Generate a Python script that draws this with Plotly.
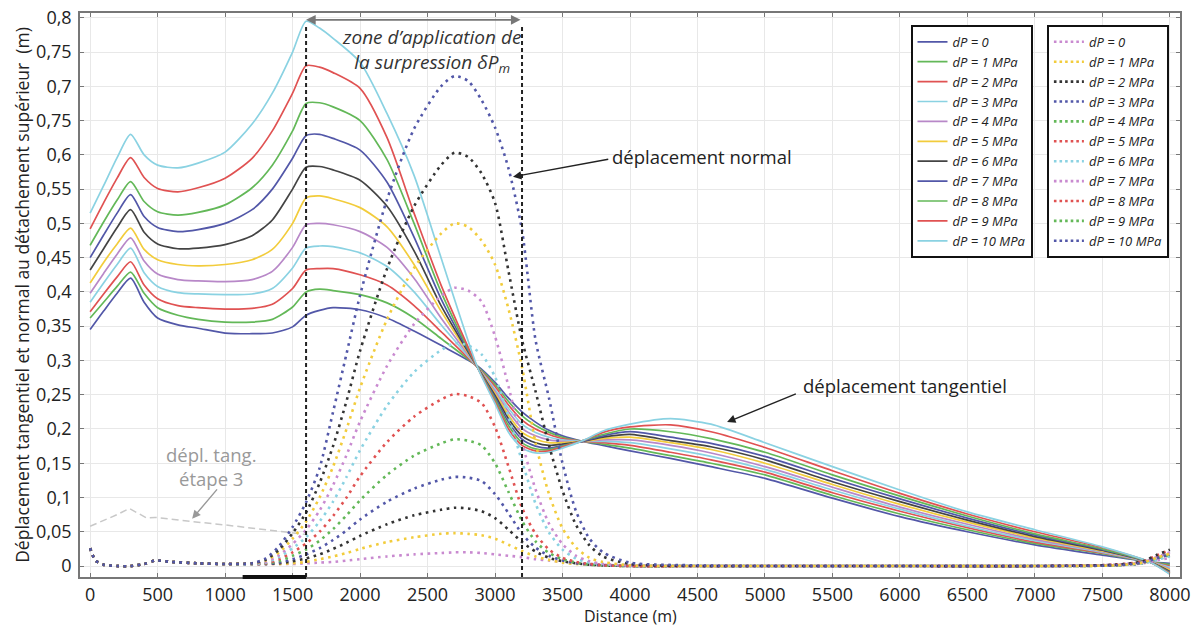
import plotly.graph_objects as go

# ---------------- data ----------------
dp_labels = ["dP = 0", "dP = 1 MPa", "dP = 2 MPa", "dP = 3 MPa", "dP = 4 MPa", "dP = 5 MPa",
             "dP = 6 MPa", "dP = 7 MPa", "dP = 8 MPa", "dP = 9 MPa", "dP = 10 MPa"]

# tangential displacement (solid lines)
x_tan = [0, 100, 200, 300, 400, 500, 650, 800, 1000, 1200, 1350, 1500, 1600, 1700, 1800, 2000, 2200,
         2400, 2600, 2870, 3000, 3100, 3200, 3300, 3400, 3500, 3650, 3800, 4000, 4300, 4600, 5000,
         5500, 6000, 6500, 7000, 7500, 7850, 8000]
tan_dp0 = [0.345, 0.372, 0.398, 0.420, 0.385, 0.362, 0.352, 0.347, 0.340, 0.339, 0.340, 0.349, 0.366,
           0.373, 0.377, 0.374, 0.362, 0.343, 0.322, 0.292, 0.268, 0.245, 0.225, 0.210, 0.198, 0.190,
           0.182, 0.176, 0.168, 0.157, 0.145, 0.128, 0.099, 0.072, 0.050, 0.031, 0.016, 0.006, 0.004]
tan_dp1 = [0.362, 0.385, 0.408, 0.429, 0.398, 0.377, 0.366, 0.360, 0.356, 0.356, 0.360, 0.378, 0.400,
           0.404, 0.402, 0.396, 0.384, 0.362, 0.332, 0.291, 0.265, 0.240, 0.219, 0.205, 0.195, 0.188,
           0.182, 0.178, 0.172, 0.161, 0.150, 0.133, 0.103, 0.076, 0.053, 0.033, 0.018, 0.006, 0.002]
tan_dp2 = [0.371, 0.397, 0.422, 0.444, 0.410, 0.390, 0.380, 0.377, 0.375, 0.376, 0.382, 0.405, 0.432,
           0.434, 0.434, 0.425, 0.410, 0.380, 0.342, 0.290, 0.262, 0.235, 0.213, 0.200, 0.192, 0.186,
           0.182, 0.180, 0.176, 0.166, 0.155, 0.137, 0.107, 0.080, 0.056, 0.035, 0.019, 0.006, 0.000]
tan_dp3 = [0.385, 0.413, 0.440, 0.464, 0.428, 0.408, 0.399, 0.397, 0.396, 0.397, 0.405, 0.435, 0.464,
           0.467, 0.466, 0.457, 0.437, 0.400, 0.352, 0.290, 0.258, 0.230, 0.207, 0.195, 0.188, 0.184,
           0.182, 0.182, 0.180, 0.171, 0.160, 0.141, 0.111, 0.083, 0.058, 0.037, 0.020, 0.006, -0.002]
tan_dp4 = [0.398, 0.427, 0.455, 0.479, 0.445, 0.426, 0.418, 0.416, 0.415, 0.418, 0.430, 0.465, 0.498,
           0.500, 0.498, 0.488, 0.465, 0.420, 0.362, 0.290, 0.255, 0.225, 0.201, 0.190, 0.184, 0.182,
           0.182, 0.184, 0.184, 0.176, 0.165, 0.145, 0.115, 0.086, 0.061, 0.039, 0.021, 0.006, -0.004]
tan_dp5 = [0.413, 0.443, 0.470, 0.493, 0.462, 0.447, 0.440, 0.438, 0.440, 0.447, 0.462, 0.500, 0.537,
           0.540, 0.536, 0.523, 0.495, 0.440, 0.372, 0.290, 0.252, 0.220, 0.195, 0.185, 0.180, 0.180,
           0.182, 0.186, 0.188, 0.180, 0.170, 0.150, 0.119, 0.090, 0.064, 0.041, 0.022, 0.006, -0.006]
tan_dp6 = [0.432, 0.463, 0.494, 0.520, 0.487, 0.470, 0.463, 0.464, 0.469, 0.482, 0.505, 0.550, 0.582,
           0.583, 0.578, 0.563, 0.525, 0.460, 0.380, 0.290, 0.249, 0.215, 0.190, 0.180, 0.176, 0.178,
           0.182, 0.188, 0.192, 0.183, 0.174, 0.155, 0.123, 0.094, 0.067, 0.043, 0.023, 0.006, -0.008]
tan_dp7 = [0.450, 0.483, 0.515, 0.542, 0.510, 0.494, 0.488, 0.491, 0.500, 0.520, 0.550, 0.595, 0.628,
           0.630, 0.624, 0.607, 0.560, 0.480, 0.390, 0.290, 0.246, 0.210, 0.185, 0.175, 0.172, 0.176,
           0.182, 0.190, 0.196, 0.188, 0.179, 0.160, 0.128, 0.098, 0.070, 0.045, 0.024, 0.006, -0.009]
tan_dp8 = [0.468, 0.502, 0.534, 0.561, 0.532, 0.517, 0.512, 0.516, 0.527, 0.552, 0.585, 0.635, 0.675,
           0.676, 0.670, 0.650, 0.593, 0.500, 0.400, 0.290, 0.243, 0.205, 0.180, 0.171, 0.170, 0.175,
           0.183, 0.192, 0.200, 0.196, 0.186, 0.166, 0.133, 0.102, 0.073, 0.047, 0.025, 0.006, -0.010]
tan_dp9 = [0.492, 0.530, 0.566, 0.596, 0.567, 0.551, 0.546, 0.552, 0.566, 0.595, 0.635, 0.690, 0.730,
           0.728, 0.720, 0.697, 0.625, 0.515, 0.410, 0.290, 0.240, 0.200, 0.176, 0.168, 0.168, 0.174,
           0.183, 0.195, 0.203, 0.206, 0.196, 0.173, 0.139, 0.106, 0.076, 0.050, 0.027, 0.006, -0.011]
tan_dp10 = [0.515, 0.555, 0.596, 0.630, 0.600, 0.585, 0.581, 0.588, 0.604, 0.645, 0.690, 0.750, 0.795,
            0.785, 0.770, 0.735, 0.660, 0.570, 0.450, 0.290, 0.237, 0.195, 0.172, 0.165, 0.166, 0.172,
            0.183, 0.197, 0.207, 0.215, 0.207, 0.180, 0.145, 0.111, 0.079, 0.053, 0.028, 0.006, -0.012]
tan_series = [tan_dp0, tan_dp1, tan_dp2, tan_dp3, tan_dp4, tan_dp5, tan_dp6, tan_dp7, tan_dp8, tan_dp9, tan_dp10]

# normal displacement (dotted lines)
x_nor = [0, 40, 100, 200, 300, 400, 480, 600, 800, 1000, 1200, 1300, 1400, 1500, 1600, 1700, 1800,
         1900, 2000, 2200, 2400, 2600, 2700, 2800, 2900, 3000, 3100, 3200, 3300, 3400, 3500, 3600,
         3700, 3800, 4000, 4500, 5000, 6000, 7000, 7600, 7800, 7900, 8000]
nor_dp0 = [0.026, 0.008, 0.002, 0.0, 0.0, 0.003, 0.008, 0.006, 0.004, 0.003, 0.003, 0.003, 0.003,
           0.003, 0.004, 0.005, 0.006, 0.008, 0.010, 0.014, 0.017, 0.019, 0.020, 0.020, 0.019, 0.017,
           0.015, 0.013, 0.010, 0.008, 0.006, 0.004, 0.003, 0.002, 0.0, 0.0, 0.0, 0.0, 0.0, 0.001,
           0.004, 0.008, 0.012]
nor_dp1 = [0.026, 0.008, 0.002, 0.0, 0.0, 0.003, 0.008, 0.006, 0.004, 0.003, 0.003, 0.003, 0.003,
           0.004, 0.006, 0.010, 0.014, 0.019, 0.025, 0.035, 0.042, 0.047, 0.048, 0.047, 0.045, 0.040,
           0.031, 0.022, 0.014, 0.009, 0.005, 0.003, 0.002, 0.001, 0.0, 0.0, 0.0, 0.0, 0.0, 0.001,
           0.005, 0.012, 0.018]
nor_dp2 = [0.026, 0.008, 0.002, 0.0, 0.0, 0.003, 0.008, 0.006, 0.004, 0.003, 0.003, 0.003, 0.004,
           0.007, 0.011, 0.017, 0.025, 0.034, 0.044, 0.061, 0.074, 0.082, 0.085, 0.084, 0.080, 0.070,
           0.053, 0.035, 0.021, 0.012, 0.007, 0.004, 0.002, 0.001, 0.0, 0.0, 0.0, 0.0, 0.0, 0.001,
           0.004, 0.010, 0.015]
nor_dp3 = [0.026, 0.008, 0.002, 0.0, 0.0, 0.003, 0.008, 0.006, 0.004, 0.003, 0.003, 0.003, 0.005,
           0.010, 0.017, 0.026, 0.038, 0.052, 0.068, 0.094, 0.113, 0.126, 0.130, 0.129, 0.124, 0.105,
           0.077, 0.047, 0.027, 0.015, 0.008, 0.004, 0.002, 0.001, 0.0, 0.0, 0.0, 0.0, 0.0, 0.002,
           0.006, 0.014, 0.022]
nor_dp4 = [0.026, 0.008, 0.002, 0.0, 0.0, 0.003, 0.008, 0.006, 0.004, 0.003, 0.003, 0.004, 0.007,
           0.015, 0.024, 0.037, 0.054, 0.074, 0.096, 0.133, 0.161, 0.179, 0.185, 0.183, 0.176, 0.150,
           0.108, 0.066, 0.036, 0.019, 0.010, 0.005, 0.002, 0.001, 0.0, 0.0, 0.0, 0.0, 0.0, 0.001,
           0.005, 0.011, 0.016]
nor_dp5 = [0.026, 0.008, 0.002, 0.0, 0.0, 0.003, 0.008, 0.006, 0.004, 0.003, 0.003, 0.004, 0.010,
           0.020, 0.033, 0.050, 0.073, 0.100, 0.131, 0.181, 0.218, 0.243, 0.251, 0.248, 0.238, 0.203,
           0.145, 0.085, 0.047, 0.024, 0.012, 0.006, 0.003, 0.001, 0.0, 0.0, 0.0, 0.0, 0.0, 0.002,
           0.007, 0.015, 0.024]
nor_dp6 = [0.026, 0.008, 0.002, 0.0, 0.0, 0.003, 0.008, 0.006, 0.004, 0.003, 0.003, 0.005, 0.013,
           0.026, 0.042, 0.065, 0.094, 0.130, 0.169, 0.234, 0.283, 0.315, 0.325, 0.322, 0.309, 0.276,
           0.218, 0.153, 0.091, 0.049, 0.024, 0.011, 0.005, 0.003, 0.001, 0.0, 0.0, 0.0, 0.0, 0.001,
           0.004, 0.009, 0.014]
nor_dp7 = [0.026, 0.008, 0.002, 0.0, 0.0, 0.003, 0.008, 0.006, 0.004, 0.003, 0.004, 0.006, 0.016,
           0.032, 0.053, 0.081, 0.118, 0.162, 0.211, 0.292, 0.353, 0.394, 0.406, 0.402, 0.386, 0.335,
           0.262, 0.180, 0.112, 0.062, 0.032, 0.015, 0.007, 0.003, 0.001, 0.0, 0.0, 0.0, 0.0, 0.002,
           0.006, 0.013, 0.020]
nor_dp8 = [0.026, 0.008, 0.002, 0.0, 0.0, 0.003, 0.008, 0.006, 0.004, 0.003, 0.004, 0.008, 0.020,
           0.040, 0.065, 0.100, 0.145, 0.200, 0.260, 0.360, 0.435, 0.485, 0.500, 0.495, 0.475, 0.440,
           0.375, 0.290, 0.180, 0.105, 0.055, 0.027, 0.012, 0.006, 0.001, 0.0, 0.0, 0.0, 0.0, 0.001,
           0.005, 0.012, 0.018]
nor_dp9 = [0.026, 0.008, 0.002, 0.0, 0.0, 0.003, 0.008, 0.006, 0.004, 0.003, 0.004, 0.009, 0.024,
           0.048, 0.078, 0.121, 0.175, 0.241, 0.314, 0.434, 0.525, 0.585, 0.603, 0.597, 0.573, 0.530,
           0.430, 0.330, 0.255, 0.176, 0.110, 0.060, 0.030, 0.014, 0.003, 0.0, 0.0, 0.0, 0.0, 0.002,
           0.007, 0.016, 0.024]
nor_dp10 = [0.026, 0.008, 0.002, 0.0, 0.0, 0.003, 0.008, 0.006, 0.004, 0.003, 0.004, 0.011, 0.029,
            0.057, 0.093, 0.143, 0.225, 0.310, 0.395, 0.535, 0.638, 0.700, 0.715, 0.708, 0.680, 0.640,
            0.580, 0.490, 0.330, 0.245, 0.150, 0.080, 0.040, 0.020, 0.005, 0.001, 0.0, 0.0, 0.0, 0.001,
            0.005, 0.011, 0.017]
nor_series = [nor_dp0, nor_dp1, nor_dp2, nor_dp3, nor_dp4, nor_dp5, nor_dp6, nor_dp7, nor_dp8, nor_dp9, nor_dp10]

# tangential displacement of step 3 (grey dashed)
x_step3 = [0, 100, 200, 290, 350, 420, 480, 600, 800, 1000, 1200, 1400, 1600]
y_step3 = [0.058, 0.066, 0.075, 0.084, 0.077, 0.070, 0.071, 0.068, 0.064, 0.060, 0.055, 0.050, 0.046]

x_ticks = list(range(0, 8001, 500))
y_tickvals = [round(0.05 * i, 2) for i in range(17)]
y_ticktext = ["0", "0,05", "0,1", "0,15", "0,2", "0,25", "0,3", "0,35", "0,4", "0,45", "0,5",
              "0,55", "0,6", "0,75", "0,7", "0,75", "0,8"]

# ---------------- styles ----------------
BLUE = "#5257a8"
GREEN = "#63b858"
RED = "#e05252"
CYAN = "#8ad2e2"
PURPLE = "#b888c8"
YELLOW = "#f2cc3c"
BLACK = "#444444"
PINK = "#c98ad0"

solid_colors = [BLUE, GREEN, RED, CYAN, PURPLE, YELLOW, BLACK, BLUE, GREEN, RED, CYAN]
dot_plot_colors = [PINK, YELLOW, "#333333", BLUE, GREEN, RED, CYAN, PINK, YELLOW, "#333333", BLUE]
dot_legend_colors = [PINK, YELLOW, "#333333", BLUE, GREEN, RED, CYAN, PINK, RED, GREEN, BLUE]

FONT = "Open Sans"

fig = go.Figure()

for i, ys in enumerate(tan_series):
    fig.add_trace(go.Scatter(x=x_tan, y=ys, mode="lines", name=dp_labels[i],
                             line=dict(color=solid_colors[i], width=1.7, shape="spline", smoothing=0.7),
                             legend="legend"))

fig.add_trace(go.Scatter(x=x_step3, y=y_step3, mode="lines", showlegend=False,
                         line=dict(color="#c8c8c8", width=1.5, dash="7px,4px")))

for i, ys in enumerate(nor_series):
    fig.add_trace(go.Scatter(x=x_nor, y=ys, mode="lines", showlegend=False,
                             line=dict(color=dot_plot_colors[i], width=2.6, dash="2.6px,4.5px",
                                       shape="spline", smoothing=0.7)))

# legend entries for the dotted series (as shown in the reference legend)
for i in range(len(dp_labels)):
    fig.add_trace(go.Scatter(x=[None], y=[None], mode="lines", name=dp_labels[i],
                             line=dict(color=dot_legend_colors[i], width=2.6, dash="2.6px,3px"),
                             legend="legend2"))

# dashed vertical lines limiting the application zone
for xv in [1600, 3200]:
    fig.add_shape(type="line", x0=xv, x1=xv, y0=0, y1=0.975, xref="x", yref="paper",
                  line=dict(color="#222222", width=2, dash="4px,3px"))

# thick black bar on the x axis
fig.add_shape(type="line", x0=1130, x1=1600, y0=0, y1=0, xref="x", yref="paper",
              line=dict(color="#111111", width=4))

ann = []
# double arrow
ann.append(dict(x=1600, y=0.797, ax=3200, ay=0.797, xref="x", yref="y", axref="x", ayref="y",
                text="", showarrow=True, arrowhead=2, arrowside="end+start", arrowsize=1.2,
                arrowwidth=1.6, arrowcolor="#777777"))
ann.append(dict(x=2530, y=0.753, xref="x", yref="y", showarrow=False,
                text="zone d’application de<br>la surpression δP<sub>m</sub>",
                font=dict(family=FONT, size=19, color="#333333", style="italic"), align="center"))
# deplacement normal
ann.append(dict(x=3133, y=0.568, ax=3850, ay=0.594, xref="x", yref="y", axref="x", ayref="y",
                text="", showarrow=True, arrowhead=2, arrowsize=1.2, arrowwidth=1.4,
                arrowcolor="#222222"))
ann.append(dict(x=3850, y=0.597, xref="x", yref="y", xanchor="left", showarrow=False,
                text="déplacement normal", font=dict(family=FONT, size=18.5, color="#222222")))
# deplacement tangentiel
ann.append(dict(x=4719, y=0.210, ax=5240, ay=0.252, xref="x", yref="y", axref="x", ayref="y",
                text="", showarrow=True, arrowhead=2, arrowsize=1.2, arrowwidth=1.4,
                arrowcolor="#222222"))
ann.append(dict(x=5265, y=0.264, xref="x", yref="y", xanchor="left", showarrow=False,
                text="déplacement tangentiel", font=dict(family=FONT, size=18.5, color="#222222")))
# depl. tang. etape 3
ann.append(dict(x=756, y=0.069, ax=950, ay=0.114, xref="x", yref="y", axref="x", ayref="y",
                text="", showarrow=True, arrowhead=2, arrowsize=1.2, arrowwidth=1.4,
                arrowcolor="#999999"))
ann.append(dict(x=900, y=0.145, xref="x", yref="y", showarrow=False,
                text="dépl. tang.<br>étape 3", align="center",
                font=dict(family=FONT, size=18.5, color="#999999")))
# x axis title (placed explicitly so it stays inside the window)
ann.append(dict(x=0.5, y=-0.0691, xref="paper", yref="paper", xanchor="center", yanchor="middle",
                showarrow=False, text="Distance (m)",
                font=dict(family=FONT, size=16, color="#222222")))

legend_common = dict(xanchor="left", yanchor="top", bgcolor="white", bordercolor="#111111",
                     borderwidth=2, itemwidth=30, tracegroupgap=0,
                     font=dict(family=FONT, size=13, color="#222222", style="italic"))

fig.update_layout(
    width=1199, height=629,
    margin=dict(l=80, r=19, t=13, b=52, autoexpand=False),
    paper_bgcolor="white", plot_bgcolor="white",
    font=dict(family=FONT, size=16, color="#222222"),
    showlegend=True,
    legend=dict(x=0.755, y=0.979, **legend_common),
    legend2=dict(x=0.879, y=0.979, **legend_common),
    annotations=ann,
    xaxis=dict(range=[-75, 8075], tickvals=x_ticks, ticktext=[str(v) for v in x_ticks],
               automargin=False, ticklabeloverflow="allow",
               showgrid=True, gridcolor="#e8e8e8", gridwidth=1, zeroline=False,
               showline=True, linecolor="#777777", linewidth=1.5, mirror="ticks",
               ticks="inside", ticklen=4, tickcolor="#777777", ticklabelstandoff=1,
               tickfont=dict(family=FONT, size=18, color="#222222")),
    yaxis=dict(range=[-0.016, 0.807], tickvals=y_tickvals, ticktext=y_ticktext,
               automargin=False, ticklabeloverflow="allow",
               showgrid=True, gridcolor="#e8e8e8", gridwidth=1, zeroline=False,
               showline=True, linecolor="#777777", linewidth=1.5, mirror="ticks",
               ticks="inside", ticklen=4, tickcolor="#777777", ticklabelstandoff=3,
               tickfont=dict(family=FONT, size=18, color="#222222"),
               title=dict(text="Déplacement tangentiel et normal au détachement supérieur  (m)",
                          standoff=2, font=dict(family=FONT, size=17.5, color="#222222"))),
)

# remove the default 8px page margin so the figure sits at the window's top-left corner
fig.write_html("out.html", config={"displayModeBar": False},
               post_script="document.body.style.margin='0px';")
